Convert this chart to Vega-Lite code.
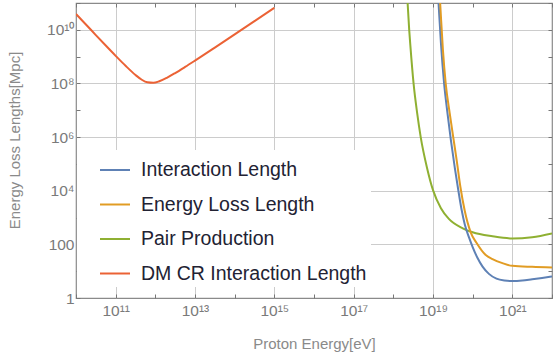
{
  "$schema": "https://vega.github.io/schema/vega-lite/v6.json",
  "width": 476,
  "height": 295,
  "autosize": {"type": "none"},
  "padding": {"left": 76, "top": 3, "right": 1, "bottom": 60},
  "config": {
    "view": {"stroke": "#8a8a8a", "strokeWidth": 1.2},
    "font": "Liberation Sans"
  },
  "data": {
    "values": [
      {"series": "DM CR Interaction Length", "E": 1e10, "L": 3.89e10},
      {"series": "DM CR Interaction Length", "E": 1.778e10, "L": 1.585e10},
      {"series": "DM CR Interaction Length", "E": 3.162e10, "L": 6.37e9},
      {"series": "DM CR Interaction Length", "E": 5.623e10, "L": 2.594e9},
      {"series": "DM CR Interaction Length", "E": 1e11, "L": 1.072e9},
      {"series": "DM CR Interaction Length", "E": 1.778e11, "L": 4.55e8},
      {"series": "DM CR Interaction Length", "E": 3.162e11, "L": 2.07e8},
      {"series": "DM CR Interaction Length", "E": 4.467e11, "L": 1.403e8},
      {"series": "DM CR Interaction Length", "E": 6.31e11, "L": 1.099e8},
      {"series": "DM CR Interaction Length", "E": 8.913e11, "L": 1.054e8},
      {"series": "DM CR Interaction Length", "E": 1.259e12, "L": 1.205e8},
      {"series": "DM CR Interaction Length", "E": 1.995e12, "L": 1.656e8},
      {"series": "DM CR Interaction Length", "E": 3.162e12, "L": 2.438e8},
      {"series": "DM CR Interaction Length", "E": 5.623e12, "L": 4.12e8},
      {"series": "DM CR Interaction Length", "E": 1e13, "L": 7.11e8},
      {"series": "DM CR Interaction Length", "E": 3.162e13, "L": 2.173e9},
      {"series": "DM CR Interaction Length", "E": 1e14, "L": 6.73e9},
      {"series": "DM CR Interaction Length", "E": 3.162e14, "L": 2.104e10},
      {"series": "DM CR Interaction Length", "E": 1e15, "L": 6.61e10},

      {"series": "Pair Production", "E": 2.138e18, "L": 7.08e11},
      {"series": "Pair Production", "E": 2.291e18, "L": 1e11},
      {"series": "Pair Production", "E": 2.512e18, "L": 1e10},
      {"series": "Pair Production", "E": 2.692e18, "L": 2.51e9},
      {"series": "Pair Production", "E": 3.236e18, "L": 1e8},
      {"series": "Pair Production", "E": 3.981e18, "L": 7.94e6},
      {"series": "Pair Production", "E": 4.898e18, "L": 1e6},
      {"series": "Pair Production", "E": 7.079e18, "L": 7.08e4},
      {"series": "Pair Production", "E": 1e19, "L": 1.05e4},
      {"series": "Pair Production", "E": 1.585e19, "L": 2239},
      {"series": "Pair Production", "E": 2.512e19, "L": 891},
      {"series": "Pair Production", "E": 5.623e19, "L": 398},
      {"series": "Pair Production", "E": 1e20, "L": 282},
      {"series": "Pair Production", "E": 3.162e20, "L": 200},
      {"series": "Pair Production", "E": 1e21, "L": 166},
      {"series": "Pair Production", "E": 3.162e21, "L": 186},
      {"series": "Pair Production", "E": 1e22, "L": 257},

      {"series": "Interaction Length", "E": 1.318e19, "L": 3.16e11},
      {"series": "Interaction Length", "E": 1.38e19, "L": 1e11},
      {"series": "Interaction Length", "E": 1.585e19, "L": 3.16e9},
      {"series": "Interaction Length", "E": 1.905e19, "L": 1e8},
      {"series": "Interaction Length", "E": 2.291e19, "L": 8.91e6},
      {"series": "Interaction Length", "E": 2.818e19, "L": 7.94e5},
      {"series": "Interaction Length", "E": 3.548e19, "L": 7.08e4},
      {"series": "Interaction Length", "E": 4.365e19, "L": 1e4},
      {"series": "Interaction Length", "E": 5.248e19, "L": 1995},
      {"series": "Interaction Length", "E": 6.31e19, "L": 562},
      {"series": "Interaction Length", "E": 8.128e19, "L": 178},
      {"series": "Interaction Length", "E": 1e20, "L": 79.4},
      {"series": "Interaction Length", "E": 1.318e20, "L": 31.6},
      {"series": "Interaction Length", "E": 1.778e20, "L": 14.8},
      {"series": "Interaction Length", "E": 2.57e20, "L": 7.94},
      {"series": "Interaction Length", "E": 3.981e20, "L": 5.25},
      {"series": "Interaction Length", "E": 6.31e20, "L": 4.47},
      {"series": "Interaction Length", "E": 1e21, "L": 4.27},
      {"series": "Interaction Length", "E": 1.778e21, "L": 4.47},
      {"series": "Interaction Length", "E": 3.162e21, "L": 5.01},
      {"series": "Interaction Length", "E": 5.623e21, "L": 5.62},
      {"series": "Interaction Length", "E": 1e22, "L": 6.31},

      {"series": "Energy Loss Length", "E": 1.445e19, "L": 3.16e11},
      {"series": "Energy Loss Length", "E": 1.514e19, "L": 1e11},
      {"series": "Energy Loss Length", "E": 1.778e19, "L": 1.78e9},
      {"series": "Energy Loss Length", "E": 2.089e19, "L": 1e8},
      {"series": "Energy Loss Length", "E": 2.63e19, "L": 7.94e6},
      {"series": "Energy Loss Length", "E": 3.236e19, "L": 1e6},
      {"series": "Energy Loss Length", "E": 3.981e19, "L": 1.26e5},
      {"series": "Energy Loss Length", "E": 4.898e19, "L": 1.41e4},
      {"series": "Energy Loss Length", "E": 6.31e19, "L": 1780},
      {"series": "Energy Loss Length", "E": 8.913e19, "L": 282},
      {"series": "Energy Loss Length", "E": 1.259e20, "L": 112},
      {"series": "Energy Loss Length", "E": 2.138e20, "L": 39.8},
      {"series": "Energy Loss Length", "E": 3.162e20, "L": 28.2},
      {"series": "Energy Loss Length", "E": 5.623e20, "L": 20},
      {"series": "Energy Loss Length", "E": 1e21, "L": 15.8},
      {"series": "Energy Loss Length", "E": 3.162e21, "L": 14.5},
      {"series": "Energy Loss Length", "E": 1e22, "L": 13.8}
    ]
  },
  "layer": [
    {
      "mark": {"type": "line", "strokeWidth": 2, "interpolate": "monotone", "clip": true},
      "encoding": {
        "x": {
          "field": "E", "type": "quantitative",
          "scale": {"type": "log", "domain": [1e10, 1e22], "nice": false},
          "axis": {
            "orient": "bottom",
            "values": [1e10, 1e11, 1e12, 1e13, 1e14, 1e15, 1e16, 1e17, 1e18, 1e19, 1e20, 1e21, 1e22],
            "labelExpr": "(round(log(datum.value)/LN10) % 2 == 1) ? '10' + ['⁰','¹','²','³','⁴','⁵','⁶','⁷','⁸','⁹'][floor(round(log(datum.value)/LN10)/10)] + ['⁰','¹','²','³','⁴','⁵','⁶','⁷','⁸','⁹'][round(log(datum.value)/LN10) % 10] : ''",
            "title": "Proton Energy[eV]",
            "domain": false,
            "tickSize": -4, "tickColor": "#777777", "tickWidth": 1,
            "grid": true, "gridColor": "#cccccc", "gridWidth": 1,
            "gridOpacity": {"condition": {"test": "round(log(datum.value)/LN10) % 2 == 1", "value": 1}, "value": 0},
            "labelFontSize": 15.5, "labelColor": "#7a7a7a", "labelPadding": 9,
            "labelFlush": false, "labelOverlap": false,
            "titleFontSize": 15, "titleFontWeight": "normal", "titleColor": "#8a8a8a",
            "titleY": 45, "titleBaseline": "middle"
          }
        },
        "y": {
          "field": "L", "type": "quantitative",
          "scale": {"type": "log", "domain": [1, 1e11], "nice": false},
          "axis": {
            "orient": "left",
            "values": [1, 10, 100, 1e3, 1e4, 1e5, 1e6, 1e7, 1e8, 1e9, 1e10, 1e11],
            "labelExpr": "round(log(datum.value)/LN10) == 0 ? '1' : round(log(datum.value)/LN10) == 2 ? '100' : (round(log(datum.value)/LN10) % 2 == 0) ? '10' + (round(log(datum.value)/LN10) >= 10 ? '¹' : '') + ['⁰','¹','²','³','⁴','⁵','⁶','⁷','⁸','⁹'][round(log(datum.value)/LN10) % 10] : ''",
            "title": "Energy Loss Lengths[Mpc]",
            "domain": false,
            "tickSize": -4, "tickColor": "#777777", "tickWidth": 1,
            "grid": true, "gridColor": "#cccccc", "gridWidth": 1,
            "gridOpacity": {"condition": {"test": "round(log(datum.value)/LN10) % 2 == 0 && round(log(datum.value)/LN10) > 0", "value": 1}, "value": 0},
            "labelFontSize": 15.5, "labelColor": "#7a7a7a", "labelPadding": 6,
            "labelFlush": false, "labelOverlap": false,
            "titleFontSize": 15, "titleFontWeight": "normal", "titleColor": "#8a8a8a",
            "titleX": -62, "titleY": 137, "titleBaseline": "middle", "titleAlign": "center"
          }
        },
        "color": {
          "field": "series", "type": "nominal",
          "scale": {
            "domain": ["Interaction Length", "Energy Loss Length", "Pair Production", "DM CR Interaction Length"],
            "range": ["#5E81B5", "#E19C24", "#8FB032", "#EB6235"]
          },
          "legend": {
            "title": null,
            "orient": "none",
            "legendX": 1,
            "legendY": 147,
            "fillColor": "white",
            "padding": 4,
            "symbolType": "stroke",
            "symbolSize": 900,
            "symbolStrokeWidth": 2,
            "symbolOffset": 18,
            "labelOffset": 10,
            "rowPadding": 8.5,
            "labelFontSize": 19.5,
            "labelLimit": 320,
            "labelColor": "#222233"
          }
        }
      }
    },
    {
      "mark": {"type": "point", "opacity": 0, "clip": true},
      "encoding": {
        "x": {
          "field": "E", "type": "quantitative",
          "scale": {"type": "log", "domain": [1e10, 1e22], "nice": false},
          "axis": {
            "orient": "top",
            "values": [1e10, 1e11, 1e12, 1e13, 1e14, 1e15, 1e16, 1e17, 1e18, 1e19, 1e20, 1e21, 1e22],
            "labels": false, "title": null, "domain": false, "grid": false,
            "tickSize": -4, "tickColor": "#777777", "tickWidth": 1
          }
        },
        "y": {
          "field": "L", "type": "quantitative",
          "scale": {"type": "log", "domain": [1, 1e11], "nice": false},
          "axis": {
            "orient": "right",
            "values": [1, 10, 100, 1e3, 1e4, 1e5, 1e6, 1e7, 1e8, 1e9, 1e10, 1e11],
            "labels": false, "title": null, "domain": false, "grid": false,
            "tickSize": -4, "tickColor": "#777777", "tickWidth": 1
          }
        }
      }
    }
  ],
  "resolve": {"axis": {"x": "independent", "y": "independent"}}
}
